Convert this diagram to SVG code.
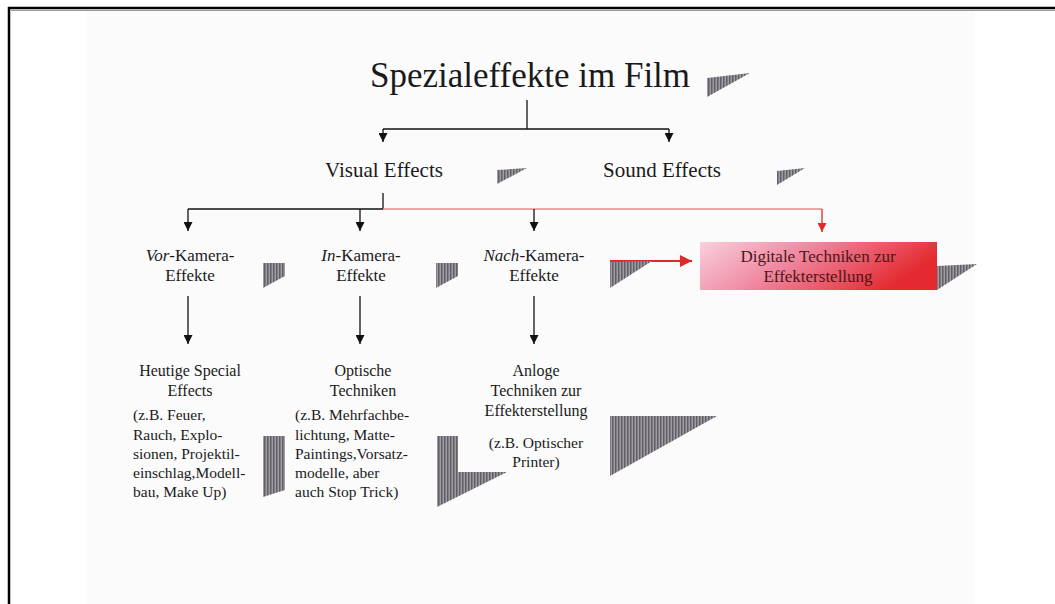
<svg xmlns="http://www.w3.org/2000/svg" width="1055" height="604" viewBox="0 0 1055 604">
<defs>
<pattern id="hatch" width="3" height="4" patternUnits="userSpaceOnUse">
<rect width="3" height="4" fill="#a19ca2"/>
<rect width="1.5" height="4" fill="#625e66"/>
</pattern>
<linearGradient id="dig" x1="0" y1="0" x2="1" y2="0.3">
<stop offset="0" stop-color="#f8d0dc"/>
<stop offset="0.45" stop-color="#f088a2"/>
<stop offset="1" stop-color="#e42a30"/>
</linearGradient>
<marker id="ah" viewBox="0 0 10 10" refX="10" refY="5" markerWidth="9" markerHeight="9" markerUnits="userSpaceOnUse" orient="auto">
<path d="M0,0 L10,5 L0,10 z" fill="#111"/>
</marker>
<marker id="ahr" viewBox="0 0 10 10" refX="10" refY="5" markerWidth="9" markerHeight="9" markerUnits="userSpaceOnUse" orient="auto">
<path d="M0,0 L10,5 L0,10 z" fill="#e02a2a"/>
</marker>
<marker id="ahr2" viewBox="0 0 10 10" refX="10" refY="5" markerWidth="14" markerHeight="12" markerUnits="userSpaceOnUse" orient="auto">
<path d="M0,0 L10,5 L0,10 z" fill="#e02a2a"/>
</marker>
</defs>
<style>
text{font-family:"Liberation Serif","Times New Roman",serif;fill:#1a1a1a}
.t{font-size:35px}
.l1{font-size:21px}
.l2{font-size:17px}
.l3{font-size:16px}
.b{font-size:15.5px}
.c{text-anchor:middle}
.ln{stroke:#111;stroke-width:1.3;fill:none}
.rl{stroke:#e98a8a;stroke-width:1.3;fill:none}
.sh{fill:url(#hatch)}
</style>
<rect width="1055" height="604" fill="#ffffff"/>
<rect x="87" y="11" width="888" height="593" fill="#fbfbfb"/>
<path d="M9,604 V8 H1055" fill="none" stroke="#000" stroke-width="2.5"/>
<line x1="11" y1="10.5" x2="1055" y2="10.5" stroke="#999" stroke-width="1"/>

<g id="connectors">
<line class="ln" x1="527" y1="100" x2="527" y2="129"/>
<line class="ln" x1="383" y1="129" x2="669" y2="129"/>
<line class="ln" x1="383" y1="129" x2="383" y2="142" marker-end="url(#ah)"/>
<line class="ln" x1="669" y1="129" x2="669" y2="142" marker-end="url(#ah)"/>
<line class="ln" x1="383" y1="193" x2="383" y2="209"/>
<line class="ln" x1="188" y1="209" x2="383" y2="209"/>
<line class="rl" x1="383" y1="209" x2="822" y2="209"/>
<line class="ln" x1="188" y1="209" x2="188" y2="231" marker-end="url(#ah)"/>
<line class="ln" x1="360" y1="209" x2="360" y2="231" marker-end="url(#ah)"/>
<line class="ln" x1="534" y1="209" x2="534" y2="231" marker-end="url(#ah)"/>
<line stroke="#e02a2a" stroke-width="1.3" x1="822" y1="209" x2="822" y2="232" marker-end="url(#ahr)"/>
<line stroke="#e02a2a" stroke-width="2" x1="610" y1="261" x2="692" y2="261" marker-end="url(#ahr2)"/>
<line class="ln" x1="188" y1="296" x2="188" y2="344" marker-end="url(#ah)"/>
<line class="ln" x1="360" y1="296" x2="360" y2="344" marker-end="url(#ah)"/>
<line class="ln" x1="534" y1="296" x2="534" y2="344" marker-end="url(#ah)"/>
</g>

<g id="shadows">
<polygon class="sh" points="707,78 750,73 707,97"/>
<polygon class="sh" points="497,170 527,168 497,184"/>
<polygon class="sh" points="777,171 805,168 777,185"/>
<polygon class="sh" points="263,263 285,263 285,276 263,288"/>
<polygon class="sh" points="436,263 458,263 458,276 436,288"/>
<polygon class="sh" points="610,262 652,261 610,288"/>
<polygon class="sh" points="937,266 977,264 937,290"/>
<polygon class="sh" points="263,436 285,436 285,490 263,497"/>
<polygon class="sh" points="437,436 458,436 458,472 507,472 437,507"/>
<polygon class="sh" points="610,416 717,416 610,476"/>
</g>

<g id="title"><text class="t c" x="530" y="87">Spezialeffekte im Film</text></g>
<g id="visual"><text class="l1" x="325" y="177">Visual Effects</text></g>
<g id="sound"><text class="l1" x="603" y="177">Sound Effects</text></g>

<g id="vor">
<text class="l2 c" x="190" y="261"><tspan font-style="italic">Vor</tspan>-Kamera-</text>
<text class="l2 c" x="190" y="281">Effekte</text>
</g>
<g id="in">
<text class="l2 c" x="361" y="261"><tspan font-style="italic">In</tspan>-Kamera-</text>
<text class="l2 c" x="361" y="281">Effekte</text>
</g>
<g id="nach">
<text class="l2 c" x="534" y="261"><tspan font-style="italic">Nach</tspan>-Kamera-</text>
<text class="l2 c" x="534" y="281">Effekte</text>
</g>
<g id="digital">
<rect x="700" y="242" width="237" height="48" fill="url(#dig)"/>
<text class="l2 c" x="818" y="262" style="fill:#4a1818">Digitale Techniken zur</text>
<text class="l2 c" x="818" y="282" style="fill:#4a1818">Effekterstellung</text>
</g>

<g id="heutige">
<text class="l3 c" x="190" y="376">Heutige Special</text>
<text class="l3 c" x="190" y="396">Effects</text>
<text class="b" x="133" y="420">(z.B. Feuer,</text>
<text class="b" x="133" y="440">Rauch, Explo-</text>
<text class="b" x="133" y="459">sionen, Projektil-</text>
<text class="b" x="133" y="478">einschlag,Modell-</text>
<text class="b" x="133" y="497">bau, Make Up)</text>
</g>
<g id="optische">
<text class="l3 c" x="363" y="376">Optische</text>
<text class="l3 c" x="363" y="396">Techniken</text>
<text class="b" x="295" y="420">(z.B. Mehrfachbe-</text>
<text class="b" x="295" y="440">lichtung, Matte-</text>
<text class="b" x="295" y="459">Paintings,Vorsatz-</text>
<text class="b" x="295" y="478">modelle, aber</text>
<text class="b" x="295" y="497">auch Stop Trick)</text>
</g>
<g id="anloge">
<text class="l3 c" x="536" y="376">Anloge</text>
<text class="l3 c" x="536" y="396">Techniken zur</text>
<text class="l3 c" x="536" y="416">Effekterstellung</text>
<text class="b c" x="536" y="448">(z.B. Optischer</text>
<text class="b c" x="536" y="467">Printer)</text>
</g>
</svg>
